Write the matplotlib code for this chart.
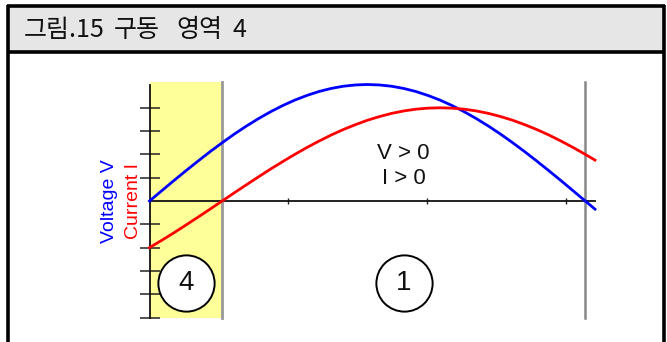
import numpy as np
import matplotlib
matplotlib.use("Agg")
import matplotlib.pyplot as plt
from matplotlib.patches import Rectangle

# Phase angle (degrees) and normalised waveforms
angle_deg = [0, 5, 10, 15, 20, 25, 30, 35, 40, 45, 50, 55, 60, 65, 70, 75,
             80, 85, 90, 95, 100, 105, 110, 115, 120, 125, 130, 135, 140,
             145, 150, 155, 160, 165, 170, 175, 180, 184]
voltage = [0.000, 0.087, 0.174, 0.259, 0.342, 0.423, 0.500, 0.574, 0.643,
           0.707, 0.766, 0.819, 0.866, 0.906, 0.940, 0.966, 0.985, 0.996,
           1.000, 0.996, 0.985, 0.966, 0.940, 0.906, 0.866, 0.819, 0.766,
           0.707, 0.643, 0.574, 0.500, 0.423, 0.342, 0.259, 0.174, 0.087,
           0.000, -0.070]
current = [-0.400, -0.338, -0.274, -0.207, -0.139, -0.070, 0.000, 0.070,
           0.139, 0.207, 0.274, 0.338, 0.400, 0.459, 0.514, 0.566, 0.613,
           0.655, 0.693, 0.725, 0.752, 0.773, 0.788, 0.797, 0.800, 0.797,
           0.788, 0.773, 0.752, 0.725, 0.693, 0.655, 0.613, 0.566, 0.514,
           0.459, 0.400, 0.351]

region4_end_deg = 30      # current zero crossing
half_cycle_deg = 180      # voltage zero crossing
title_words = ["그림.15", "구동", "영역", "4"]
title_word_x = [24, 114, 176, 233]
region_labels = ["4", "1"]
quadrant_text = "V > 0\nI > 0"

x = np.radians(angle_deg)
x4 = np.radians(region4_end_deg)
xpi = np.radians(half_cycle_deg)

W, H = 667, 342
fig = plt.figure(figsize=(W / 100, H / 100), dpi=100)
fig.patch.set_facecolor("white")

# Frame and title band (figure pixel coordinates)
def px(x0, y0, w, h, **kw):
    fig.patches.append(Rectangle((x0 / W, 1 - (y0 + h) / H), w / W, h / H,
                                 transform=fig.transFigure, **kw))

px(8, 5.5, 656, 46.5, facecolor="#e6e6e6", edgecolor="none", zorder=0)
frame_kw = dict(color="black", lw=2.6, transform=fig.transFigure, solid_capstyle="butt")
fig.add_artist(plt.Line2D([8.3 / W, 8.3 / W], [0, 1 - 4.5 / H], **frame_kw))
fig.add_artist(plt.Line2D([663.7 / W, 663.7 / W], [0, 1 - 4.5 / H], **frame_kw))
fig.add_artist(plt.Line2D([7 / W, 665 / W], [1 - 5.8 / H, 1 - 5.8 / H], **frame_kw))
fig.add_artist(plt.Line2D([7 / W, 665 / W], [1 - 52 / H, 1 - 52 / H], **frame_kw))
for word, wx in zip(title_words, title_word_x):
    fig.text(wx / W, 1 - 30 / H, word, fontsize=18, va="center", ha="left",
             family=["Noto Sans CJK KR", "DejaVu Sans"], color="#111111")

# Plot area
x0_px, x1_px = 149.5, 595.0
ytop_px, ybot_px = 81.7, 317.5
ax = fig.add_axes([x0_px / W, 1 - ybot_px / H, (x1_px - x0_px) / W, (ybot_px - ytop_px) / H])
ax.set_facecolor("none")
ax.set_xlim(0, x[-1])
y_unit = 116.5
ax.set_ylim(-(ybot_px - 201) / y_unit, (201 - ytop_px) / y_unit)
ytop = (201 - ytop_px) / y_unit

# Operating region 4 shading and region boundaries
ax.add_patch(Rectangle((0, -1.0), x4, ytop + 1.0, facecolor="#ffff99",
                       edgecolor="none", zorder=0, clip_on=False))
ax.plot([x4, x4], [-1.0, ytop], color="#999999", lw=2, zorder=1, clip_on=False)
ax.plot([xpi, xpi], [-1.0, ytop], color="#888888", lw=1.8, zorder=1, clip_on=False)

# Axes through the origin
for side in ["top", "right"]:
    ax.spines[side].set_visible(False)
ax.spines["left"].set_position(("data", 0))
ax.spines["left"].set_bounds(-1.0, 1.0)
ax.spines["bottom"].set_position(("data", 0))
ax.spines["bottom"].set_bounds(0, x[-1])
for s in ["left", "bottom"]:
    ax.spines[s].set_linewidth(1.3)
    ax.spines[s].set_color("#111111")
    ax.spines[s].set_zorder(2)
ax.set_yticks([0.8, 0.6, 0.4, 0.2, -0.2, -0.4, -0.6, -0.8, -1.0])
ax.set_xticks([1, 2, 3])
ax.tick_params(axis="y", direction="inout", length=15, width=1.1, color="#222222",
               labelleft=False)
ax.tick_params(axis="x", direction="inout", length=5, width=1.0, color="#222222",
               labelbottom=False)

# Waveforms
ax.plot(x, voltage, color="#0000ff", lw=2.0, zorder=3, clip_on=False)
ax.plot(x, current, color="#ff0000", lw=2.0, zorder=3, clip_on=False)

# Axis titles
sans = ["Liberation Sans", "DejaVu Sans"]
fig.text(109 / W, 1 - 201 / H, "Voltage V", rotation=90, color="#0000ff",
         fontsize=14, family=sans, ha="center", va="center")
fig.text(133 / W, 1 - 201 / H, "Current I", rotation=90, color="#ff0000",
         fontsize=14, family=sans, ha="center", va="center")

# Region markers
centers = [x4 / 2, (x4 + xpi) / 2]
for cx, lab in zip(centers, region_labels):
    ax.scatter([cx], [-0.70], s=40.5 ** 2, facecolor="white", edgecolor="black",
               linewidth=1.4, zorder=4, clip_on=False)
    ax.text(cx, -0.70, lab, fontsize=20, family=sans, ha="center", va="center",
            zorder=5, color="#111111")

ax.text(centers[1], 0.30, quadrant_text, fontsize=16, family=sans, ha="center",
        va="center", linespacing=1.2, color="#111111", zorder=5)

fig.savefig("out.png", dpi=100, facecolor="white")
